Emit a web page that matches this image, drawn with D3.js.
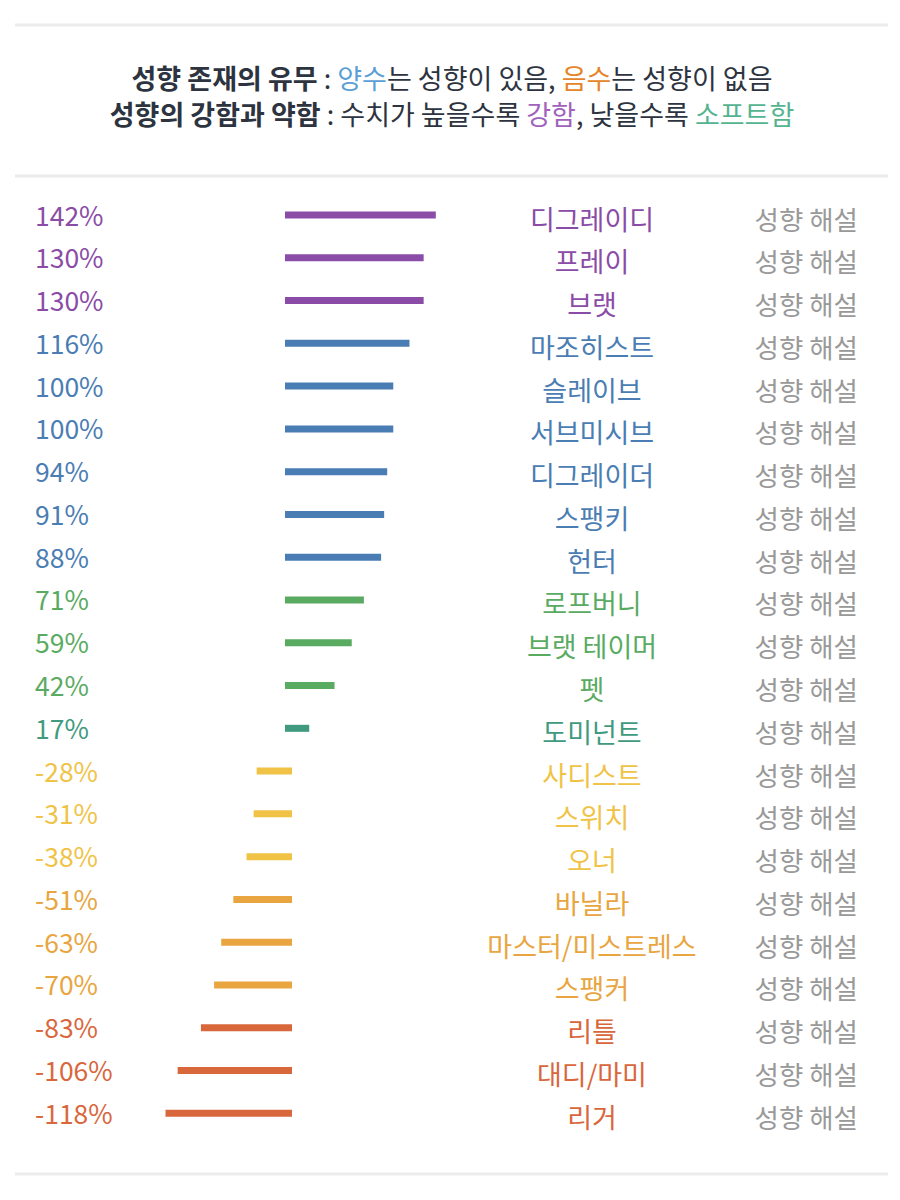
<!DOCTYPE html>
<html>
<head>
<meta charset="utf-8">
<script src="https://cdn.jsdelivr.net/npm/d3@7"></script>
<style>
  html, body { margin: 0; padding: 0; background: #fff; }
  #chart { width: 900px; height: 1200px; }
  text { font-family: "Noto Sans CJK KR", "Noto Sans", sans-serif; }
</style>
</head>
<body>
<div id="chart"></div>
<script>
// 성향 이름
const names = [
  "디그레이디", "프레이", "브랫", "마조히스트", "슬레이브", "서브미시브",
  "디그레이더", "스팽키", "헌터", "로프버니", "브랫 테이머", "펫", "도미넌트",
  "사디스트", "스위치", "오너", "바닐라", "마스터/미스트레스", "스팽커",
  "리틀", "대디/마미", "리거"
];
// 수치 (%)
const values = [
  142, 130, 130, 116, 100, 100, 94, 91, 88, 71, 59, 42, 17,
  -28, -31, -38, -51, -63, -70, -83, -106, -118
];
const linkLabel = "성향 해설";

// 제목 조각 (텍스트, 종류)
const titleLine1 = [
  ["성향 존재의 유무", "bold"], [" : ", "plain"], ["양수", "pos"],
  ["는 성향이 있음, ", "plain"], ["음수", "neg"], ["는 성향이 없음", "plain"]
];
const titleLine2 = [
  ["성향의 강함과 약함", "bold"], [" : 수치가 높을수록 ", "plain"], ["강함", "strong"],
  [", 낮을수록 ", "plain"], ["소프트함", "soft"]
];

const W = 900, H = 1200;

const svg = d3.select("#chart").append("svg")
  .attr("width", W)
  .attr("height", H);

// 구분선
const dividers = [25, 176, 1174];
svg.selectAll(".divider")
  .data(dividers)
  .enter()
  .append("line")
  .attr("x1", 15).attr("x2", 888)
  .attr("y1", d => d).attr("y2", d => d)
  .attr("stroke", "#ececec")
  .attr("stroke-width", 3);

// 제목
const titleColor = d3.scaleOrdinal()
  .domain(["bold", "plain", "pos", "neg", "strong", "soft"])
  .range(["#2d3440", "#2d3440", "#5b9fd6", "#e5852a", "#a062bd", "#55b48f"]);

[[titleLine1, 77], [titleLine2, 113]].forEach(([parts, y]) => {
  const t = svg.append("text")
    .attr("x", 452)
    .attr("y", y)
    .attr("text-anchor", "middle")
    .attr("dominant-baseline", "central")
    .attr("font-size", "27px")
    .style("white-space", "pre");
  parts.forEach(([s, kind]) => {
    t.append("tspan")
      .attr("fill", titleColor(kind))
      .attr("font-weight", kind === "bold" ? 700 : 400)
      .text(s);
  });
});

// 스케일
const x = d3.scaleLinear()
  .domain([0, 142])
  .range([288.5, 432.3]);

const y = d3.scalePoint()
  .domain(d3.range(names.length))
  .range([215, 1113.3]);

const color = d3.scaleThreshold()
  .domain([-80, -45, 0, 30, 80, 120])
  .range(["#d9673c", "#e8a540", "#f0c347", "#3f9a80", "#5aab62", "#4a7db3", "#8a4ca7"]);

const rows = svg.selectAll(".row")
  .data(values)
  .enter()
  .append("g")
  .attr("class", "row")
  .attr("transform", (d, i) => `translate(0,${y(i)})`);

// 막대
rows.append("line")
  .attr("x1", x(0))
  .attr("x2", d => x(d))
  .attr("stroke", d => color(d))
  .attr("stroke-width", 7)
  .attr("stroke-linecap", "square");

// 수치 라벨
rows.append("text")
  .attr("x", 35)
  .attr("y", -1)
  .attr("dominant-baseline", "central")
  .attr("font-family", "'Noto Sans', sans-serif")
  .attr("font-size", "26.5px")
  .attr("fill", d => color(d))
  .text(d => d + "%");

// 성향 이름
rows.append("text")
  .attr("x", 592)
  .attr("y", 3)
  .attr("text-anchor", "middle")
  .attr("dominant-baseline", "central")
  .attr("font-size", "27px")
  .attr("fill", d => color(d))
  .text((d, i) => names[i]);

// 성향 해설
rows.append("text")
  .attr("x", 858)
  .attr("y", 3)
  .attr("text-anchor", "end")
  .attr("dominant-baseline", "central")
  .attr("font-size", "26.5px")
  .attr("fill", "#999")
  .text(linkLabel);
</script>
</body>
</html>
